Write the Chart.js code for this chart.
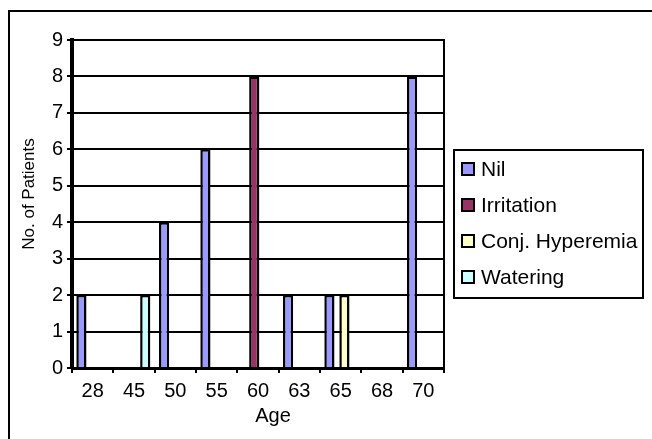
<!DOCTYPE html>
<html>
<head>
<meta charset="utf-8">
<script src="https://cdn.jsdelivr.net/npm/chart.js@4.4.0/dist/chart.umd.min.js"></script>
<style>
  html, body { margin: 0; padding: 0; background: #fff; overflow: hidden; }
  #wrap { position: relative; width: 652px; height: 439px; overflow: hidden; }
  #frame { position: absolute; left: 8px; top: 10px; width: 700px; height: 500px;
           border: 2px solid #000; box-sizing: border-box; }
  canvas { position: absolute; left: 0; top: 0; }
</style>
</head>
<body>
<div id="wrap">
  <div id="frame"></div>
  <canvas id="c" width="652" height="439"></canvas>
</div>
<script>
// Age groups along the x axis
const ages = ['28', '45', '50', '55', '60', '63', '65', '68', '70'];

// Number of patients per age, one array per side effect (null = no entry)
const nil            = [2, null, 4, 6, null, 2, 2, null, 8];
const irritation     = [null, null, null, null, 8, null, null, null, null];
const conjHyperemia  = [null, null, null, null, null, null, 2, null, null];
const watering       = [null, 2, null, null, null, null, null, null, null];

const seriesNames  = ['Nil', 'Irritation', 'Conj. Hyperemia', 'Watering'];
const seriesValues = [nil, irritation, conjHyperemia, watering];
const seriesColors = ['#9999FF', '#993366', '#FFFFCC', '#CCFFFF'];

// Value axis range
const yMin = 0;
const yMax = 9;
const yStep = 1;

const xTitle = 'Age';
const yTitle = 'No. of Patients';

const FONT = '"Liberation Sans", Arial, Helvetica, sans-serif';

// Right plot border, axis titles and the boxed legend
const decorations = {
  id: 'decorations',
  afterDraw(chart) {
    const { ctx, chartArea: a } = chart;
    ctx.save();
    ctx.strokeStyle = '#000';
    ctx.lineWidth = 2;
    ctx.beginPath();
    ctx.moveTo(a.right, a.top - 1);
    ctx.lineTo(a.right, a.bottom);
    ctx.stroke();

    ctx.fillStyle = '#000';
    ctx.textAlign = 'center';
    ctx.textBaseline = 'middle';
    ctx.font = '20px ' + FONT;
    ctx.fillText(xTitle, (a.left + a.right) / 2 + 15, a.bottom + 48);

    ctx.save();
    ctx.translate(29, (a.top + a.bottom) / 2 - 10);
    ctx.rotate(-Math.PI / 2);
    ctx.font = '17px ' + FONT;
    ctx.fillText(yTitle, 0, 0);
    ctx.restore();

    // legend box
    const lx = a.right + 10, ly = 150, lw = 189, lh = 148;
    ctx.lineWidth = 2;
    ctx.fillStyle = '#fff';
    ctx.fillRect(lx, ly, lw, lh);
    ctx.strokeRect(lx, ly, lw, lh);
    ctx.font = '21px ' + FONT;
    ctx.textAlign = 'left';
    chart.data.datasets.forEach((ds, i) => {
      const cy = ly + 19 + i * 36;
      ctx.fillStyle = ds.backgroundColor;
      ctx.fillRect(lx + 8, cy - 6, 12, 12);
      ctx.strokeRect(lx + 8, cy - 6, 12, 12);
      ctx.fillStyle = '#000';
      ctx.fillText(ds.label, lx + 27, cy + 1);
    });
    ctx.restore();
  }
};

new Chart(document.getElementById('c'), {
  type: 'bar',
  data: {
    labels: ages,
    datasets: seriesNames.map((name, i) => ({
      label: name,
      data: seriesValues[i],
      backgroundColor: seriesColors[i],
      borderColor: '#000',
      borderWidth: 2.5
    }))
  },
  options: {
    responsive: false,
    animation: false,
    devicePixelRatio: 1,
    layout: { padding: { top: 40, right: 208, bottom: 0, left: 0 } },
    datasets: { bar: { categoryPercentage: 0.726, barPercentage: 1.36 } },
    plugins: { legend: { display: false }, tooltip: { enabled: false } },
    scales: {
      x: {
        grid: { display: true, drawOnChartArea: false, color: '#000', lineWidth: 2, tickLength: 5, offset: true },
        border: { display: true, color: '#000', width: 3 },
        ticks: { color: '#000', font: { family: FONT, size: 20 }, padding: 6, maxRotation: 0, autoSkip: false },
        afterFit(s) { s.height = 71; }
      },
      y: {
        min: yMin,
        max: yMax,
        ticks: { stepSize: yStep, color: '#000', font: { family: FONT, size: 20 }, padding: 4 },
        grid: { color: '#000', lineWidth: 2, tickLength: 5 },
        border: { color: '#000', width: 4 },
        afterFit(s) { s.width = 72; }
      }
    }
  },
  plugins: [decorations]
});
</script>
</body>
</html>
